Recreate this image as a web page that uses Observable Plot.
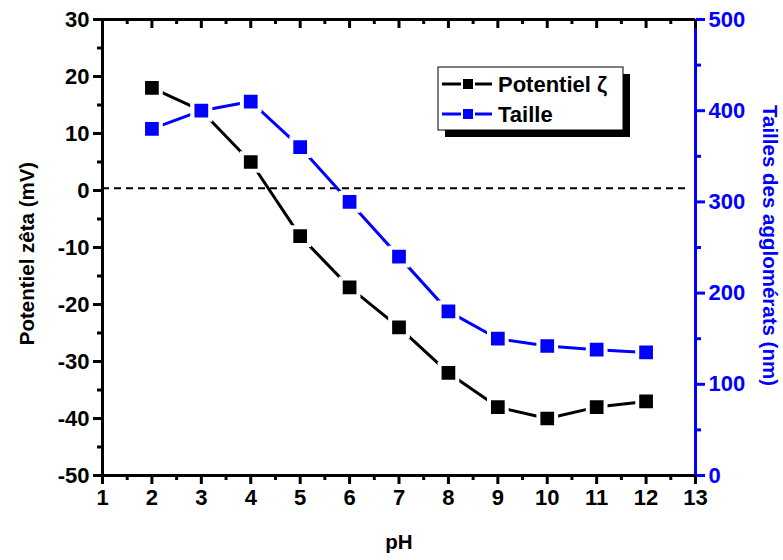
<!DOCTYPE html>
<html><head><meta charset="utf-8">
<script src="https://cdn.jsdelivr.net/npm/d3@7"></script>
<script src="https://cdn.jsdelivr.net/npm/@observablehq/plot@0.6"></script>
<style>
body{margin:0;background:#fff}
#chart{position:relative;width:783px;height:560px}
#chart svg{font-family:"Liberation Sans",Arial,sans-serif;font-weight:bold}
</style>
</head><body><div id="chart"></div>
<script>
// ---- data ----
const pH = [2, 3, 4, 5, 6, 7, 8, 9, 10, 11, 12];
const zeta = [18, 14, 5, -8, -17, -24, -32, -38, -40, -38, -37];
const taille = [380, 400, 410, 360, 300, 240, 180, 150, 142, 138, 135];
const xTicks = [1, 2, 3, 4, 5, 6, 7, 8, 9, 10, 11, 12, 13];
const xMinor = [1.5, 2.5, 3.5, 4.5, 5.5, 6.5, 7.5, 8.5, 9.5, 10.5, 11.5, 12.5];
const leftTicks = [-50, -40, -30, -20, -10, 0, 10, 20, 30];
const leftMinor = [-45, -35, -25, -15, -5, 5, 15, 25];
const rightTicks = [0, 100, 200, 300, 400, 500];
const rightMinor = [50, 150, 250, 350, 450];
const zeroLine = [0.4];
const legendLabels = ["Potentiel ζ", "Taille"];
const colors = ["#000000", "#0000ff"];
const xTitle = "pH", yTitle = "Potentiel zêta (mV)", y2Title = "Tailles des agglomérats (nm)";

// ---- scales ----
const X0 = 1, X1 = 13, Y0 = -50, Y1 = 30, R0 = 0, R1 = 500;
const toLeft = v => Y0 + (v - R0) * (Y1 - Y0) / (R1 - R0);
const fromLeft = d => String(Math.round(R0 + (d - Y0) * (R1 - R0) / (Y1 - Y0)));
const fmt = d => String(d);

const zData = pH.map((p, i) => ({pH: p, v: zeta[i]}));
const tData = pH.map((p, i) => ({pH: p, v: toLeft(taille[i])}));

const W = 783, H = 560;
const mL = 102, mR = 88, mT = 19, mB = 85;
const pxPerY = (H - mT - mB) / (Y1 - Y0);
const topTickMajor = 9 / pxPerY, topTickMinor = 5 / pxPerY;
const tickFont = 22;

const tickLabels = (anchor, ticks, format, color) => Plot.text(ticks, {
  ...(anchor === "bottom" ? {x: d => d, frameAnchor: "bottom", dy: 22, lineAnchor: "middle"}
     : anchor === "left" ? {y: d => d, frameAnchor: "left", dx: -13, textAnchor: "end"}
     : {y: d => d, frameAnchor: "right", dx: 13, textAnchor: "start"}),
  text: format, fill: color, fontSize: tickFont, fontWeight: "bold"
});

const chart = Plot.plot({
  width: W, height: H,
  marginLeft: mL, marginRight: mR, marginTop: mT, marginBottom: mB,
  x: {domain: [X0, X1]},
  y: {domain: [Y0, Y1]},
  style: {fontFamily: "'Liberation Sans', Arial, sans-serif", fontWeight: "bold", background: "white"},
  marks: [
    Plot.ruleY(zeroLine, {x1: X0, x2: 12.85, stroke: "black", strokeWidth: 2, strokeDasharray: "7,5"}),
    Plot.line(zData, {x: "pH", y: "v", stroke: colors[0], strokeWidth: 3}),
    Plot.line(tData, {x: "pH", y: "v", stroke: colors[1], strokeWidth: 3}),
    Plot.dot(zData, {x: "pH", y: "v", symbol: "square", r: 10, fill: colors[0], stroke: "white", strokeWidth: 4}),
    Plot.dot(tData, {x: "pH", y: "v", symbol: "square", r: 10, fill: colors[1], stroke: "white", strokeWidth: 4}),
    Plot.ruleX([X0], {stroke: "black", strokeWidth: 3}),
    Plot.ruleY([Y0], {stroke: "black", strokeWidth: 3}),
    Plot.ruleY([Y1], {stroke: "black", strokeWidth: 3}),
    Plot.ruleX([X1], {stroke: colors[1], strokeWidth: 3}),
    Plot.ruleX(xTicks, {x: d => d, y1: Y1, y2: Y1 - topTickMajor, stroke: "black", strokeWidth: 3}),
    Plot.ruleX(xMinor, {x: d => d, y1: Y1, y2: Y1 - topTickMinor, stroke: "black", strokeWidth: 3}),
    Plot.axisX(xTicks, {anchor: "bottom", tickSize: 9, strokeWidth: 3, text: null, label: null}),
    Plot.axisX(xMinor, {anchor: "bottom", tickSize: 5, strokeWidth: 3, text: null, label: null}),
    Plot.axisY(leftTicks, {anchor: "left", tickSize: 9, strokeWidth: 3, text: null, label: null}),
    Plot.axisY(leftMinor, {anchor: "left", tickSize: 5, strokeWidth: 3, text: null, label: null}),
    Plot.axisY(rightTicks.map(toLeft), {anchor: "right", tickSize: 9, strokeWidth: 3, stroke: colors[1], text: null, label: null}),
    Plot.axisY(rightMinor.map(toLeft), {anchor: "right", tickSize: 5, strokeWidth: 3, stroke: colors[1], text: null, label: null}),
    tickLabels("bottom", xTicks, fmt, "black"),
    tickLabels("left", leftTicks, fmt, "black"),
    tickLabels("right", rightTicks.map(toLeft), fromLeft, colors[1]),
    Plot.text([xTitle], {frameAnchor: "bottom", dy: 73, textAnchor: "middle", fontSize: 20.5, fontWeight: "bold", fill: "black"}),
    Plot.text([yTitle], {frameAnchor: "left", dx: -75, dy: 6, textAnchor: "middle", rotate: -90, fontSize: 20.5, fontWeight: "bold", fill: "black"}),
    Plot.text([y2Title], {frameAnchor: "right", dx: 74, dy: -2, textAnchor: "middle", rotate: 90, fontSize: 20.5, fontWeight: "bold", fill: colors[1]})
  ]
});
document.getElementById("chart").appendChild(chart);

const svg = d3.select(chart);

// ---- legend ----
const lg = svg.append("g").attr("text-anchor", "start");
const bx = 438, by = 67, bw = 185, bh = 63, sh = 7;
lg.append("rect").attr("x", bx + sh).attr("y", by + sh).attr("width", bw).attr("height", bh).attr("fill", "black");
lg.append("rect").attr("x", bx).attr("y", by).attr("width", bw).attr("height", bh).attr("fill", "white").attr("stroke", "black").attr("stroke-width", 1);
legendLabels.forEach((lab, i) => {
  const cy = by + 17 + i * 30;
  lg.append("line").attr("x1", bx + 4).attr("x2", bx + 54).attr("y1", cy).attr("y2", cy).attr("stroke", colors[i]).attr("stroke-width", 3);
  lg.append("rect").attr("x", bx + 24).attr("y", cy - 6).attr("width", 12).attr("height", 12).attr("fill", colors[i]).attr("stroke", "white").attr("stroke-width", 2);
  lg.append("text").attr("x", bx + 60).attr("y", cy).attr("dy", "0.36em").attr("text-anchor", "start").attr("font-size", 22).attr("font-weight", "bold").attr("fill", "black").text(lab);
});
</script>
</body></html>
